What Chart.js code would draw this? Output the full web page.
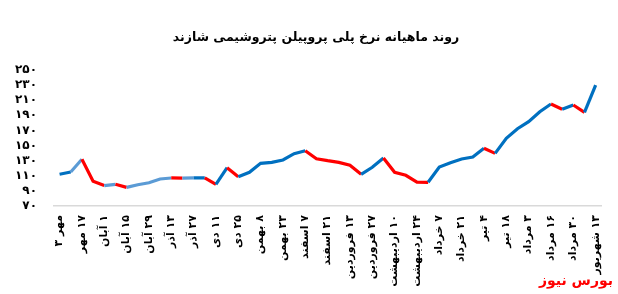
<!DOCTYPE html>
<html>
<head>
<meta charset="utf-8">
<script src="https://cdn.jsdelivr.net/npm/chart.js@4.4.1/dist/chart.umd.min.js"></script>
<style>
  html, body { margin: 0; padding: 0; background: #fff; }
  #wrap { position: relative; width: 618px; height: 294px; }
  #title {
    position: absolute; left: 0; top: 29px; width: 632px; text-align: center;
    font: bold 12.5px "DejaVu Sans", sans-serif; color: #000;
  }
  #brand {
    position: absolute; right: 5px; top: 272px;
    font: bold 14px "DejaVu Sans", sans-serif; color: #ff0000;
  }
</style>
</head>
<body>
<div id="wrap">
  <canvas id="rateChart" width="618" height="294"></canvas>
  <div id="title" dir="rtl"></div>
  <div id="brand" dir="rtl">بورس نیوز</div>
</div>
<script>
const chartTitle = 'روند ماهیانه نرخ پلی پروپیلن پتروشیمی شازند';

// biweekly tick labels (one for every other weekly point)
const tickLabels = [
  'مهر ۳', '۱۷ مهر', '۱ آبان', '۱۵ آبان', '۲۹ آبان', '۱۳ آذر', '۲۷ آذر',
  '۱۱ دی', '۲۵ دی', '۸ بهمن', '۲۳ بهمن', '۷ اسفند', '۲۱ اسفند',
  '۱۳ فروردین', '۲۷ فروردین', '۱۰ اردیبهشت', '۲۴ اردیبهشت', '۷ خرداد',
  '۲۱ خرداد', '۴ تیر', '۱۸ تیر', '۳ مرداد', '۱۶ مرداد', '۳۰ مرداد', '۱۳ شهریور'
];

// weekly price values
const prices = [
  112.0, 115.0, 131.8, 102.7, 97.0, 98.7, 94.7, 98.2, 100.8, 105.7,
  107.1, 107.0, 107.1, 107.2, 98.7, 120.7, 108.8, 114.6, 126.5, 127.8,
  130.9, 139.2, 143.2, 132.6, 130.0, 127.8, 124.0, 112.0, 121.2, 133.5,
  114.6, 110.6, 101.6, 101.4, 121.6, 127.3, 132.2, 134.8, 146.4, 139.7,
  159.6, 172.3, 181.6, 194.8, 205.0, 198.0, 203.7, 194.0, 230.1
];

const yTicks = { min: 70, max: 250, step: 20 };

// segments drawn in the lighter blue
const lightBlueSegments = [1, 4, 6, 7, 8, 9, 11];

const faDigits = '۰۱۲۳۴۵۶۷۸۹';
function toFa(n) {
  return String(n).replace(/\d/g, d => faDigits[d]);
}

// wrap text in a right-to-left embedding so the canvas orders it like Persian
function rtl(s) {
  return s ? '\u202B' + s + '\u202C' : '';
}

document.getElementById('title').textContent = chartTitle;

// one category per weekly point, label only every other one
const labels = prices.map((p, i) => (i % 2 === 0 ? tickLabels[i / 2] : ''));

const ctx = document.getElementById('rateChart').getContext('2d');

new Chart(ctx, {
  type: 'line',
  data: {
    labels: labels,
    datasets: [{
      data: prices,
      borderWidth: 3.2,
      pointRadius: 0,
      tension: 0,
      fill: false,
      borderColor: '#0070c0',
      segment: {
        borderColor: c => {
          if (c.p1.parsed.y < c.p0.parsed.y) return '#ff0000';
          if (lightBlueSegments.includes(c.p0DataIndex)) return '#5b9bd5';
          return '#0070c0';
        }
      }
    }]
  },
  options: {
    responsive: false,
    animation: false,
    layout: { padding: { left: 0, right: 15, top: 70, bottom: 0 } },
    plugins: {
      legend: { display: false },
      tooltip: { enabled: false },
      title: { display: false }
    },
    scales: {
      x: {
        type: 'category',
        offset: true,
        grid: { display: false, drawTicks: false },
        border: { display: true, color: '#d9d9d9', width: 1.5 },
        ticks: {
          autoSkip: false,
          maxRotation: 90,
          minRotation: 90,
          padding: 9,
          color: '#000',
          font: { family: '"DejaVu Sans", sans-serif', size: 11, weight: 'bold' },
          callback: (v, i) => rtl(labels[i])
        },
        afterFit: scale => { scale.height = 88; }
      },
      y: {
        min: yTicks.min,
        max: yTicks.max,
        grid: { display: false, drawTicks: false },
        border: { display: false },
        ticks: {
          stepSize: yTicks.step,
          autoSkip: false,
          padding: 17,
          color: '#000',
          font: { family: '"DejaVu Sans", sans-serif', size: 12, weight: 'bold' },
          callback: v => toFa(v)
        },
        afterFit: scale => { scale.width = 54; }
      }
    }
  }
});
</script>
</body>
</html>
